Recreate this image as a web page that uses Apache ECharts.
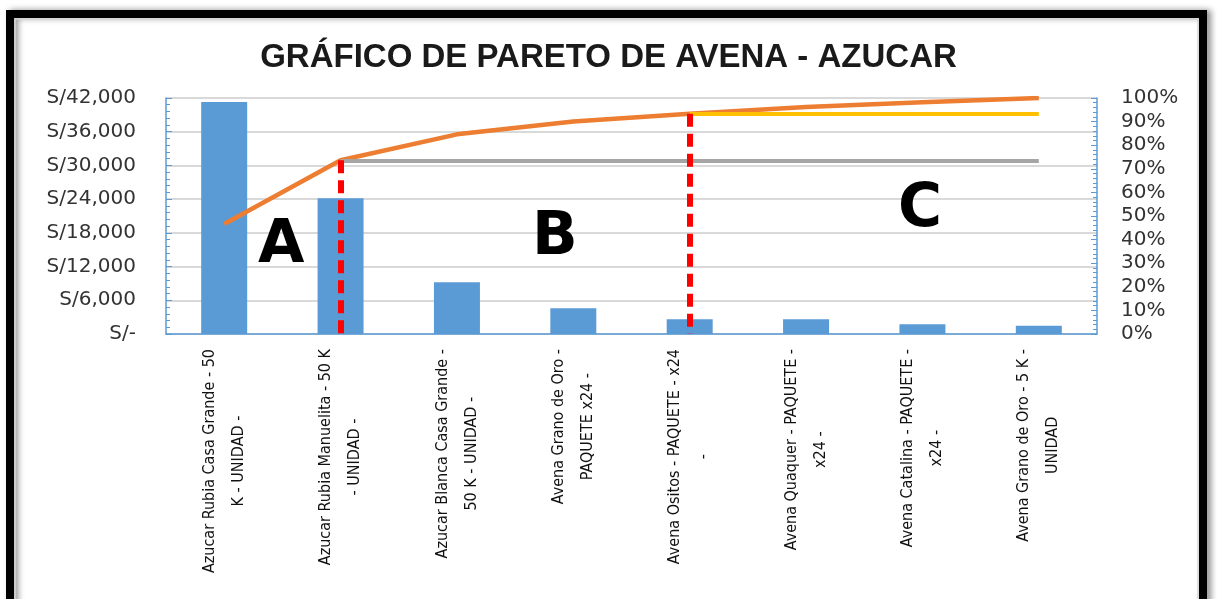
<!DOCTYPE html>
<html lang="es">
<head>
<meta charset="UTF-8">
<title>Pareto Avena - Azucar</title>
<script src="https://cdn.jsdelivr.net/npm/echarts@6/dist/echarts.min.js"></script>
<style>
    html, body { margin: 0; padding: 0; background: #fff; }
    #main { width: 1217px; height: 599px; }
</style>
</head>
<body>
<div id="main"></div>
<script>
// productos (eje X)
var categorias = [
    'Azucar Rubia Casa Grande - 50\nK - UNIDAD -',
    'Azucar Rubia Manuelita - 50 K\n- UNIDAD -',
    'Azucar Blanca Casa Grande -\n50 K - UNIDAD -',
    'Avena Grano de Oro -\nPAQUETE x24 -',
    'Avena Ositos - PAQUETE - x24\n-',
    'Avena Quaquer - PAQUETE -\nx24 -',
    'Avena Catalina - PAQUETE -\nx24 -',
    'Avena Grano de Oro - 5 K -\nUNIDAD'
];
// ventas (S/)
var ventas = [41300, 24150, 9200, 4570, 2610, 2610, 1730, 1480];
// % acumulado
var acumulado = [0.466, 0.736, 0.846, 0.900, 0.933, 0.962, 0.982, 1.0];
// cortes de zona (indice de categoria y nivel)
var corteIdx = [1, 4];
var corteValor = [0.735, 0.932];
var zonas = ['A', 'B', 'C'];

var azul = '#5B9BD5';
var myChart = echarts.init(document.getElementById('main'));

var lineaCorte = function (i, color) {
    return [
        {coord: [corteIdx[i], corteValor[i]], lineStyle: {color: color, width: 4, type: 'solid'}},
        {coord: [categorias.length - 1, corteValor[i]]}
    ];
};
// linea roja punteada: de la curva hacia el eje
var lineaRoja = function (i) {
    return [
        {coord: [corteIdx[i], acumulado[corteIdx[i]]], lineStyle: {color: '#FF0000', width: 6, type: [13, 7]}},
        {coord: [corteIdx[i], 0]}
    ];
};
var letra = function (t, x, y) {
    return {type: 'text', left: x, top: y, z: 10,
        style: {text: t, fontFamily: 'DejaVu Sans', fontWeight: 'bold', fontSize: 60, fill: '#000'}};
};

myChart.setOption({
    animation: false,
    title: {
        text: 'GRÁFICO DE PARETO DE AVENA - AZUCAR',
        left: 'center',
        top: 36,
        textStyle: {fontFamily: 'Liberation Sans', fontWeight: 'bold', fontSize: 33, color: '#1a1a1a'}
    },
    graphic: [
        {type: 'rect', shape: {x: 10, y: 14, width: 1193, height: 620},
            style: {fill: 'none', stroke: '#000', lineWidth: 8, shadowBlur: 6, shadowOffsetX: 4, shadowColor: 'rgba(0,0,0,0.45)'}},
        {type: 'rect', shape: {x: 15, y: 19, width: 1183, height: 620},
            style: {fill: 'none', stroke: '#d6d6d6', lineWidth: 1.5}},
        letra(zonas[0], 258, 216),
        letra(zonas[1], 532, 208),
        letra(zonas[2], 898, 180)
    ],
    grid: {left: 166, right: 120, top: 98, bottom: 265, containLabel: false, outerBoundsMode: 'none'},
    xAxis: {
        type: 'category',
        data: categorias,
        axisLine: {lineStyle: {color: azul, width: 1.5}},
        axisTick: {alignWithLabel: true, length: 5, lineStyle: {color: azul}},
        axisLabel: {
            rotate: 90,
            margin: 15,
            interval: 0,
            formatter: function (v) {
                return v.split('\n').map(function (s) { return '{c|' + s + '}'; }).join('\n');
            },
            rich: {
                c: {align: 'center', fontFamily: '"DejaVu Sans Condensed", sans-serif',
                    fontSize: 16, lineHeight: 29, color: '#111'}
            }
        }
    },
    yAxis: [
        {
            type: 'value', min: 0, max: 42000, interval: 6000,
            axisLine: {show: true, lineStyle: {color: azul, width: 1.5}},
            axisTick: {show: true, inside: true, length: 6, lineStyle: {color: azul}},
            minorTick: {show: true, splitNumber: 5, length: 4, lineStyle: {color: azul}},
            splitLine: {lineStyle: {color: '#D9D9D9', width: 2}},
            axisLabel: {
                margin: 30, fontFamily: 'DejaVu Sans', fontSize: 20, color: '#333',
                formatter: function (v) { return v === 0 ? 'S/-' : 'S/' + v.toLocaleString('en-US'); }
            }
        },
        {
            type: 'value', min: 0, max: 1, interval: 0.1,
            axisLine: {show: true, lineStyle: {color: azul, width: 1.5}},
            axisTick: {show: true, inside: true, length: 6, lineStyle: {color: azul}},
            minorTick: {show: true, splitNumber: 5, length: 4, lineStyle: {color: azul}},
            splitLine: {show: false},
            axisLabel: {
                margin: 24, fontFamily: 'DejaVu Sans', fontSize: 20, color: '#333',
                formatter: function (v) { return Math.round(v * 100) + '%'; }
            }
        }
    ],
    series: [
        {
            type: 'bar',
            data: ventas,
            barWidth: 46,
            itemStyle: {color: azul}
        },
        {
            type: 'line',
            yAxisIndex: 1,
            data: acumulado,
            symbol: 'none',
            lineStyle: {color: '#ED7D31', width: 4.5},
            z: 3,
            markLine: {
                silent: true,
                symbol: ['none', 'none'],
                label: {show: false},
                data: [
                    lineaCorte(0, '#A5A5A5'),
                    lineaCorte(1, '#FFC000'),
                    lineaRoja(0),
                    lineaRoja(1)
                ]
            }
        }
    ]
});
</script>
</body>
</html>
